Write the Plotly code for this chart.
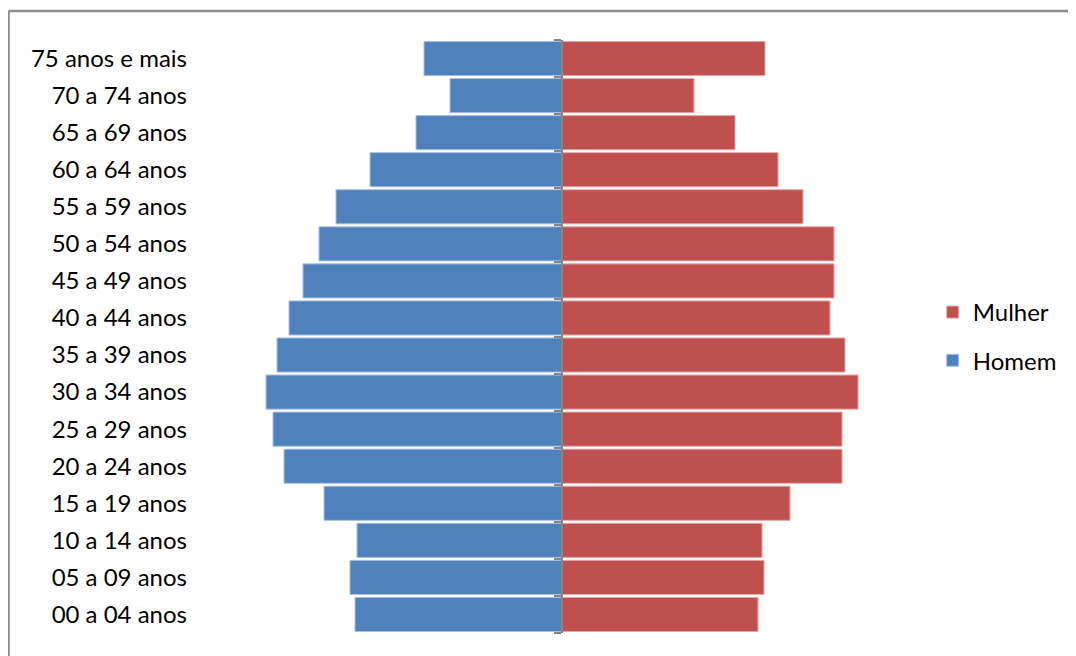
import plotly.graph_objects as go

categories = ["00 a 04 anos", "05 a 09 anos", "10 a 14 anos", "15 a 19 anos",
              "20 a 24 anos", "25 a 29 anos", "30 a 34 anos", "35 a 39 anos",
              "40 a 44 anos", "45 a 49 anos", "50 a 54 anos", "55 a 59 anos",
              "60 a 64 anos", "65 a 69 anos", "70 a 74 anos", "75 anos e mais"]
homem = [207, 212, 205, 238, 278, 289, 296, 285, 273, 259, 243, 226, 192, 146, 112, 138]
mulher = [196, 202, 200, 228, 280, 280, 296, 283, 268, 272, 272, 241, 216, 173, 132, 203]

BLUE = "#4F81BD"
RED = "#C0504D"
W, H = 1068, 648          # page has an 8px body margin
L, R, T, B = 192, 152, 32, 22.5
XMAX = 362

fig = go.Figure()
fig.add_trace(go.Bar(
    y=categories, x=[-v for v in homem], customdata=homem, orientation="h",
    name="Homem", legendgroup="h", legendrank=2,
    marker=dict(color=BLUE, line=dict(color="#A7BFE0", width=1)),
    hovertemplate="%{y}: %{customdata}<extra>Homem</extra>"))
fig.add_trace(go.Bar(
    y=categories, x=mulher, orientation="h", yaxis="y2",
    name="Mulher", legendgroup="m", legendrank=1,
    marker=dict(color=RED, line=dict(color="#E0A8A6", width=1)),
    hovertemplate="%{y}: %{x}<extra>Mulher</extra>"))

pw = W - L - R
ph = H - T - B
bx = (0.5 - L) / pw
by = (H - B - 3) / ph

fig.update_layout(
    width=W, height=H,
    margin=dict(l=L, r=R, t=T, b=B, pad=0),
    paper_bgcolor="white", plot_bgcolor="white",
    barmode="overlay", bargap=0.08,
    font=dict(family="Lato, Noto Sans, sans-serif", size=24, color="#000000"),
    xaxis=dict(range=[-XMAX, XMAX], showgrid=False, zeroline=False,
               showticklabels=False, ticks="", showline=False, fixedrange=True),
    yaxis=dict(type="category", categoryorder="array", categoryarray=categories,
               range=[-0.5, len(categories) - 0.5],
               showgrid=False, zeroline=False, showline=False, ticks="",
               ticklabelstandoff=12, tickfont=dict(size=24, color="#000000")),
    yaxis2=dict(type="category", overlaying="y", matches="y", anchor="free",
                position=0.5, side="left", showgrid=False, zeroline=False,
                showline=True, linecolor="#868686", linewidth=1.5,
                ticks="outside", tickson="boundaries", ticklen=7,
                tickcolor="#868686", tickwidth=1.5, showticklabels=False),
    legend=dict(x=1.012, y=0.5, xanchor="left", yanchor="middle",
                traceorder="grouped", tracegroupgap=14,
                font=dict(size=24, color="#000000"),
                bgcolor="rgba(0,0,0,0)"),
    showlegend=True,
    shapes=[
        dict(type="line", xref="paper", yref="paper", x0=bx, x1=bx, y0=-0.2, y1=by,
             line=dict(color="#8C8C8C", width=2.5)),
        dict(type="line", xref="paper", yref="paper", x0=bx, x1=1.4, y0=by, y1=by,
             line=dict(color="#8C8C8C", width=2.5)),
    ],
)

fig.write_html("out.html")
